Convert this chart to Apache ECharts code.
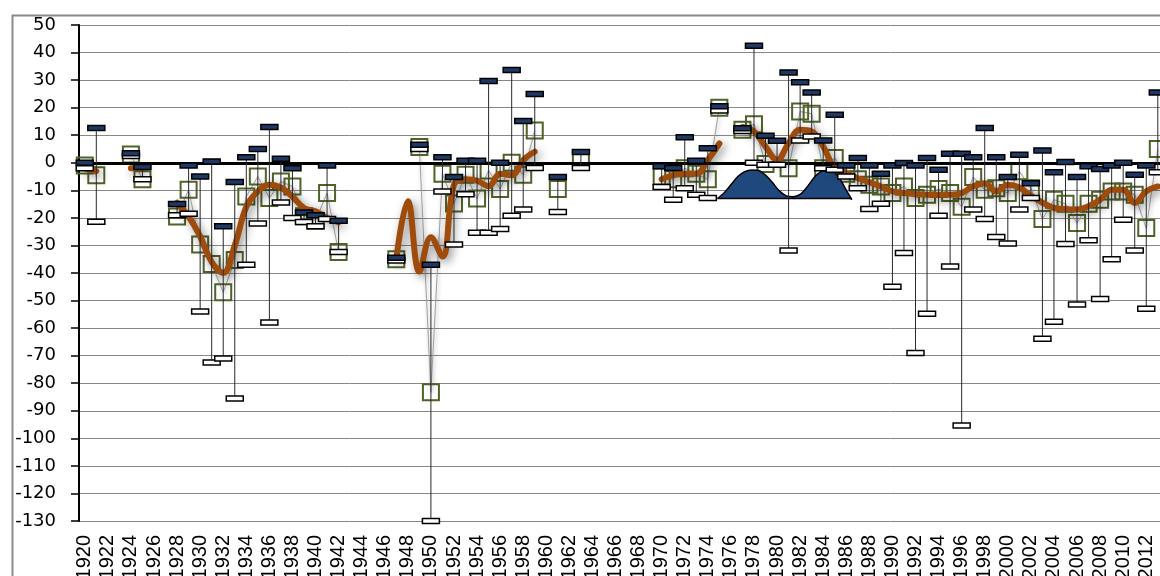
<!DOCTYPE html>
<html><head><meta charset="utf-8">
<script src="https://cdn.jsdelivr.net/npm/echarts@6/dist/echarts.min.js"></script>
<style>html,body{margin:0;padding:0;background:#fff;}#c{width:1160px;height:576px;}</style>
</head><body><div id="c"></div>
<script>
// categories: years 1920..2014
const years = [];
for (let y = 1920; y <= 2014; y++) years.push(String(y));

// yearly value (green squares)
const meanVals = [
  -1, -4.5, null, null, 3, -6, null, null, -19.5, -9.8,
  -29.7, -36.7, -47, -35.3, -12.2, -5, -12.8, -6.8, -8.6, -19.4,
  -21, -11, -32.4, null, null, null, null, -35, null, 5.7,
  -83.3, -4, -14.8, -4.3, -13, -2.8, -9.5, 0, -4.3, 11.7,
  null, -9.5, null, 1, null, null, null, null, null, null,
  -5, -6, -2, -4, -6, 20, null, 12, 14, -0.4,
  null, -2, 18.6, 17.8, -2, 1.7, -4, -6, -8, -8.6,
  -11, -8.6, -12.8, -11.6, -9.5, -11, -16, -5.2, -9.8, -9.2,
  -11, -3.1, -9.2, -20.4, -13.4, -14.9, -21.9, -14.9, -13.4, -10.4,
  -10.4, -11.6, -23.7, 5, null
];

// smoothed trend (orange line)
const trendVals = [
  -2, -3, null, null, -2, -2, null, null, -14.5, -19.5,
  -26.7, -36, -40, -30, -16, -10.4, -8, -9, -12.3, -16.4,
  -17.6, -20, -21.6, null, null, null, null, -35, -14, -39.5,
  -27, -34, -8, -6, -6.5, -8.5, -4, -4.5, 1, 4,
  null, null, null, null, null, null, null, null, null, null,
  -6, -4.5, -4, -4, 1, 7, null, 13, 11.4, 5.9,
  1, 7.1, 12, 11.4, 5.9, -1.9, -3.7, -5.6, -7, -8.6,
  -10.4, -11, -11.3, -11.6, -11.6, -11.6, -11, -8.5, -7.5, -10.4,
  -8, -9, -12, -14.5, -16.4, -16.8, -17, -15.8, -13.4, -9.8,
  -9.8, -14.6, -10.4, -8.6, null
];

// high / low range per year
const highVals = [
  0, 12.6, null, null, 3.5, -1.5, null, null, -15, -1,
  -5, 0.5, -23, -7, 2, 5, 13, 1.5, -2, -18,
  -19, -1, -21, null, null, null, null, -34.5, null, 6.5,
  -37, 2, -5.2, 0.7, 0.7, 29.7, 0, 33.7, 15.2, 25,
  null, -5.2, null, 3.9, null, null, null, null, null, null,
  -1.3, -1.9, 9.3, 0.7, 5.3, 20.5, null, 12.5, 42.5, 9.8,
  8, 32.8, 29.2, 25.5, 8.1, 17.4, -1, 1.7, -1, -4,
  -1, -0.1, -1, 1.7, -2.5, 3.3, 3.3, 2, 12.6, 2,
  -5.2, 2.9, -7.4, 4.5, -3.4, 0.3, -5.2, -1.3, -2.3, -1,
  0, -4.3, -1, 25.5, null
];
const lowVals = [
  -2, -21.4, null, null, 2.5, -6, null, null, -19, -18.5,
  -54, -72.5, -71, -85.5, -37, -22, -58, -14.4, -20, -21.5,
  -23, -20.4, -32.4, null, null, null, null, -35.5, null, 5,
  -130, -10.4, -29.7, -11.4, -25.4, -25.4, -24, -19.2, -17, -1.9,
  null, -17.9, null, -1.9, null, null, null, null, null, null,
  -8.8, -13.4, -9.2, -11.6, -12.8, 19, null, 11.5, 0, -0.7,
  -0.7, -31.8, 8.1, 9.5, -2, -2.5, -5, -9.2, -16.8, -14.9,
  -45, -32.7, -69, -54.8, -19.2, -37.6, -95.3, -17, -20.4, -26.9,
  -29.3, -17, -12.8, -63.9, -57.7, -29.5, -51.4, -28.1, -49.4, -35,
  -20.7, -31.8, -53, -3.4, null
];

// blue double-hump shape (year position, value) and its base level
const shapeX = [1974.84, 1975.4, 1976.0, 1976.6, 1977.2, 1977.8, 1978.4, 1979.0, 1979.6, 1980.2, 1980.8,
                1981.4, 1982.0, 1982.6, 1983.2, 1983.8, 1984.4, 1985.0, 1985.5, 1986.06, 1986.49];
const shapeY = [-13, -11, -8, -5, -3.2, -2.6, -2.8, -4.5, -7.2, -10.2, -12,
                -12.3, -11.5, -8.8, -5.4, -3.2, -2.8, -3.6, -6.2, -10.4, -13.4];
const shapeBase = -13;

const yTicks = { min: -130, max: 50, step: 10 };

// ---- build ----
const errData = [];
highVals.forEach((h, i) => { if (h !== null && lowVals[i] !== null) errData.push([i, h, lowVals[i]]); });
const shapeData = shapeX.map((x, i) => [x, shapeY[i]]);
const baseData = [[shapeX[0], shapeBase], [shapeX[shapeX.length - 1], shapeBase]];

const chart = echarts.init(document.getElementById('c'), null, { renderer: 'canvas' });
const nCat = years.length;
const catW = 11.538;

chart.setOption({
  animation: false,
  backgroundColor: '#fff',
  graphic: [{
    type: 'rect', left: 10, top: 13, silent: true, z: -10,
    shape: { x: 0, y: 0, width: 1300, height: 700 },
    style: { fill: 'none', stroke: '#8a8a8a', lineWidth: 2 }
  }],
  grid: { left: 79, top: 25, width: nCat * catW, height: 496, containLabel: false, outerBoundsMode: 'none' },
  xAxis: [{
    type: 'category', data: years, position: 'bottom', boundaryGap: true,
    axisLine: { show: false }, axisTick: { show: false }, splitLine: { show: false },
    axisLabel: { interval: 1, rotate: 90, margin: 14, color: '#000',
      fontFamily: 'Liberation Sans', fontSize: 20 }
  }, {
    type: 'value', min: 1919.5, max: 1919.5 + nCat, show: false, position: 'top'
  }],
  yAxis: {
    type: 'value', min: yTicks.min, max: yTicks.max, interval: yTicks.step,
    axisLine: { show: true, lineStyle: { color: '#000', width: 2 } },
    axisTick: { show: true, inside: false, length: 8, lineStyle: { color: '#000', width: 1.5 } },
    splitLine: { show: true, lineStyle: { color: '#878787', width: 1 } },
    axisLabel: { color: '#000', fontFamily: 'DejaVu Sans', fontSize: 18, margin: 23 }
  },
  series: [
    {
      name: 'values', type: 'line', data: meanVals, z: 2,
      symbol: 'rect', symbolSize: 16, showAllSymbol: true, connectNulls: false,
      itemStyle: { color: 'rgba(255,255,255,0)', borderColor: '#4F6228', borderWidth: 2 },
      lineStyle: { color: '#a0a0a0', width: 1, shadowBlur: 4, shadowColor: 'rgba(0,0,0,0.35)', shadowOffsetX: 1, shadowOffsetY: 1 },
      emphasis: { disabled: true },
      markLine: {
        silent: true, symbol: 'none', label: { show: false },
        lineStyle: { color: '#000', width: 3, type: 'solid' },
        data: [{ yAxis: 0 }]
      }
    },
    {
      name: 'shape', type: 'line', xAxisIndex: 1, data: shapeData, z: 3,
      smooth: 0.3, symbol: 'none',
      lineStyle: { color: '#000', width: 1.5 },
      areaStyle: { color: '#1F497D', opacity: 1, origin: shapeBase },
      emphasis: { disabled: true }
    },
    {
      name: 'shapeBase', type: 'line', xAxisIndex: 1, data: baseData, z: 3,
      symbol: 'none', lineStyle: { color: '#000', width: 1.5 }, emphasis: { disabled: true }
    },
    {
      name: 'trend', type: 'line', data: trendVals, z: 4,
      smooth: 0.4, symbol: 'none', connectNulls: false,
      lineStyle: { color: '#9E4B0B', width: 6, cap: 'round', join: 'round',
        shadowBlur: 10, shadowColor: 'rgba(0,0,0,0.45)', shadowOffsetX: 3, shadowOffsetY: 3 },
      emphasis: { disabled: true }
    },
    {
      name: 'range', type: 'custom', data: errData, z: 5,
      encode: { x: 0, y: [1, 2] },
      renderItem: function (params, api) {
        const x = api.value(0), hi = api.value(1), lo = api.value(2);
        const p1 = api.coord([x, hi]), p2 = api.coord([x, lo]);
        const w = 17, h = 5;
        return {
          type: 'group', children: [
            { type: 'line', shape: { x1: p1[0], y1: p1[1], x2: p2[0], y2: p2[1] }, style: { stroke: '#2a2a2a', lineWidth: 1 } },
            { type: 'rect', shape: { x: p2[0] - w / 2, y: p2[1] - h / 2, width: w, height: h }, style: { fill: '#fff', stroke: '#000', lineWidth: 1.5 } },
            { type: 'rect', shape: { x: p1[0] - w / 2, y: p1[1] - h / 2, width: w, height: h }, style: { fill: '#1F3864', stroke: '#000', lineWidth: 1.5 } }
          ]
        };
      }
    }
  ]
});
</script>
</body></html>
